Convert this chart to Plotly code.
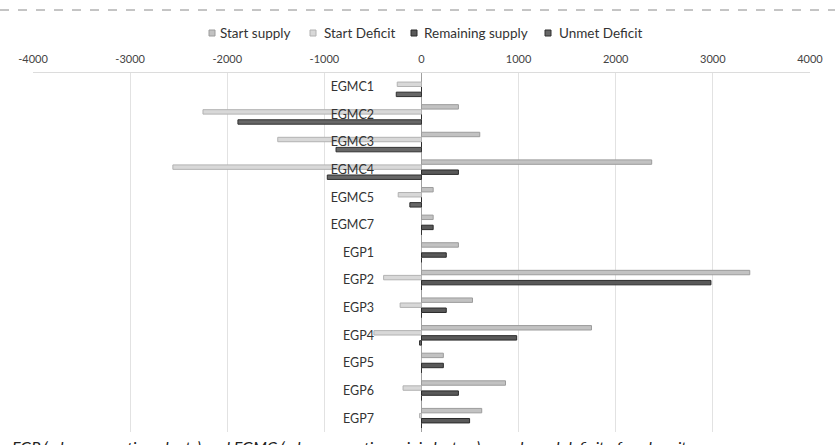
import plotly.graph_objects as go

categories = ["EGMC1", "EGMC2", "EGMC3", "EGMC4", "EGMC5", "EGMC7",
              "EGP1", "EGP2", "EGP3", "EGP4", "EGP5", "EGP6", "EGP7"]
start_supply = [0, 380, 600, 2370, 120, 120, 380, 3380, 525, 1750, 225, 865, 620]
start_deficit = [-250, -2250, -1480, -2560, -240, 0, 0, -390, -220, -490, 0, -190, -20]
remaining_supply = [0, 0, 0, 380, 0, 120, 255, 2980, 255, 980, 225, 380, 495]
unmet_deficit = [-260, -1890, -880, -970, -120, 0, 0, 0, 0, -20, 0, 0, 0]

tick_vals = [-4000, -3000, -2000, -1000, 0, 1000, 2000, 3000, 4000]
tick_text = ["-4000", "-3000", "-2000", "-1000", "0", "1000", "2000", "3000", "4000"]

series_names = ["Start supply", "Start Deficit", "Remaining supply", "Unmet Deficit"]
series_values = [start_supply, start_deficit, remaining_supply, unmet_deficit]
fills = ["#c2c2c2", "#d8d8d8", "#595959", "#676767"]
edges = ["#9c9c9c", "#b2b2b2", "#2a2a2a", "#303030"]

# plot-area geometry in pixels
W, H = 835, 445
ML, MR, MT, MB = 33, 25, 73, 13
PW, PH = W - ML - MR, H - MT - MB


def px_x(px):
    return (px - ML) / PW


def px_y(py):
    return (H - MB - py) / PH


fig = go.Figure()
for name, vals, fill, edge in zip(series_names, series_values, fills, edges):
    fig.add_trace(go.Bar(
        name=name, y=categories, x=vals, orientation="h",
        marker=dict(color=fill, line=dict(color=edge, width=1)),
        showlegend=False,
    ))

FONT = "Lato, 'Open Sans', sans-serif"
fig.update_layout(
    width=W, height=H,
    margin=dict(l=ML, r=MR, t=MT, b=MB),
    paper_bgcolor="white", plot_bgcolor="white",
    barmode="group", bargap=0.27, bargroupgap=0.12,
    font=dict(family=FONT, size=12, color="#333333"),
    showlegend=False,
    xaxis=dict(
        side="top", range=[-4000, 4000], tickvals=tick_vals, ticktext=tick_text,
        showgrid=True, gridcolor="#e2e2e2", gridwidth=1,
        zeroline=True, zerolinecolor="#a0a0a0", zerolinewidth=1,
        showline=True, linecolor="#dcdcdc", linewidth=1, mirror=False,
        ticks="", ticklabelstandoff=5,
        tickfont=dict(size=11, color="#444444", family=FONT),
    ),
    yaxis=dict(
        type="category", autorange="reversed",
        anchor="free", position=px_x(374),
        showline=False, showgrid=False, zeroline=False, ticks="",
        tickfont=dict(size=12.5, color="#333333", family=FONT),
    ),
)

# legend drawn as swatches + text (compact spacing as in the original)
legend_marker_x = [209, 310, 411, 545]
legend_text_x = [218, 322, 422, 557]
legend_y = 33
for name, fill, edge, mx, tx in zip(series_names, fills, edges, legend_marker_x, legend_text_x):
    fig.add_shape(type="rect", xref="paper", yref="paper",
                  x0=px_x(mx), x1=px_x(mx + 6), y0=px_y(legend_y + 3), y1=px_y(legend_y - 3),
                  fillcolor=fill, line=dict(color=edge, width=1))
    fig.add_annotation(text=name, xref="paper", yref="paper", x=px_x(tx), y=px_y(legend_y),
                       xanchor="left", yanchor="middle", showarrow=False,
                       font=dict(family=FONT, size=13.5, color="#333333"))

# scanned page artefacts: dashed top rule and cut-off caption
fig.add_shape(type="line", xref="paper", yref="paper",
              x0=px_x(0), x1=px_x(W), y0=px_y(10), y1=px_y(10),
              line=dict(color="#8a8a8a", width=1, dash="dash"))
fig.add_annotation(
    text="EGP (edge generation plants) and EGMC (edge generation mini clusters): supply and deficit of each unit",
    xref="paper", yref="paper", x=px_x(10), y=px_y(435), xanchor="left", yanchor="top",
    showarrow=False, font=dict(family=FONT, size=16, color="#222222", style="italic"),
)

fig.write_html("out.html")
